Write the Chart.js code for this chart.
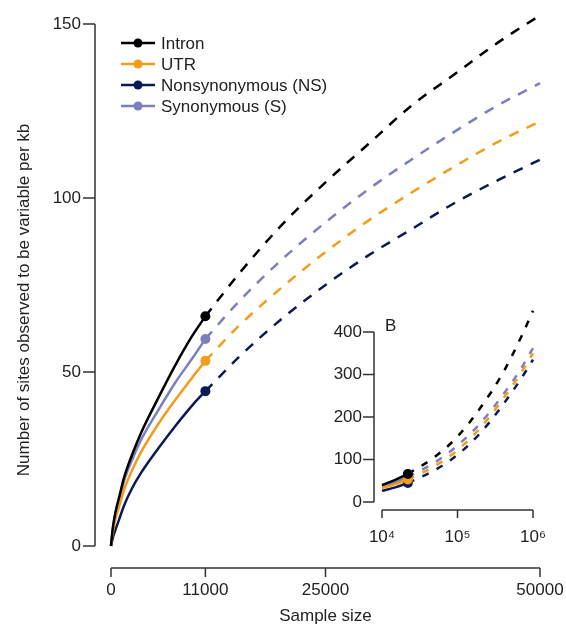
<!DOCTYPE html>
<html lang="en">
<head>
<meta charset="UTF-8" />
<title>Sites observed to be variable per kb</title>
<script src="https://cdn.jsdelivr.net/npm/chart.js"></script>
<style>
  body { margin: 0; background: #fff; }
  .wrap { position: relative; width: 566px; height: 627px; }
  #mainChart { position: absolute; left: 0; top: 0; }
  #insetChart { position: absolute; left: 320px; top: 300px; }
</style>
</head>
<body>
<div class="wrap">
  <canvas id="mainChart" width="566" height="627"></canvas>
  <canvas id="insetChart" width="246" height="260"></canvas>
</div>
<script>
// series
const seriesNames = ["Intron", "UTR", "Nonsynonymous (NS)", "Synonymous (S)"];
const seriesColors = ["#000000", "#f39c1a", "#0b1a55", "#7b7fc0"];

// main panel: observed (solid) part
const observedSizes = [0, 200, 500, 1000, 1500, 2500, 3500, 5500, 7500, 9500, 11000];
const intronObserved = [0, 5, 9.5, 14.5, 19.5, 26.5, 32.5, 42.5, 52, 60.5, 66];
const utrObserved = [0, 3.8, 7.5, 11.8, 16, 22, 27, 35, 42, 48.5, 53.2];
const nsObserved = [0, 2.2, 4.5, 8, 11.5, 16.8, 21, 28, 34.5, 40.5, 44.5];
const sObserved = [0, 4.5, 8.8, 13.5, 18.5, 25, 30.5, 39, 47, 54, 59.5];

// main panel: projected (dashed) part
const projectedSizes = [11000, 15000, 20000, 25000, 30000, 35000, 40000, 45000, 50000];
const intronProjected = [66, 78.5, 92.5, 104.5, 115.5, 126.5, 135.5, 144.5, 152.5];
const utrProjected = [53.2, 63.5, 74.5, 84.5, 93.5, 101.5, 109, 116, 122];
const nsProjected = [44.5, 54.5, 65.5, 75, 83.5, 91, 98.5, 105, 111];
const sProjected = [59.5, 70.5, 82.5, 93, 102.5, 111, 119, 126.5, 133];

const mainXTicks = [0, 11000, 25000, 50000];
const mainYTicks = [0, 50, 100, 150];

// inset B (log x)
const insetObservedSizes = [10000, 15000, 22000];
const intronInsetObs = [40, 52, 66];
const utrInsetObs = [33, 42, 53.2];
const nsInsetObs = [26.3, 34.5, 44.5];
const sInsetObs = [36.4, 46.5, 59.5];

const insetProjectedSizes = [22000, 50000, 100000, 200000, 400000, 700000, 1000000];
const intronInsetProj = [66, 106, 154, 221, 304, 389, 450];
const utrInsetProj = [53.2, 84.5, 122, 174, 242, 305, 350];
const nsInsetProj = [44.5, 75, 111, 162, 229, 291, 335];
const sInsetProj = [59.5, 93, 133, 185, 252, 315, 362];

const insetXTicks = [10000, 100000, 1000000];
const insetXLabels = ["10\u2074", "10\u2075", "10\u2076"];
const insetYTicks = [0, 100, 200, 300, 400];

Chart.defaults.font.family = "'Liberation Sans', Arial, sans-serif";
Chart.defaults.font.size = 17;
Chart.defaults.color = "#222";

const toPoints = (xs, ys) => xs.map((x, i) => ({ x: x, y: ys[i] }));

// no extra room for overflowing tick labels, so the plot area sits where layout padding says
const noLabelPadding = (s) => {
  s.paddingLeft = 0;
  s.paddingRight = 0;
  s.paddingTop = 0;
  s.paddingBottom = 0;
};

function buildDatasets(obsX, obsList, projX, projList, dash, radius) {
  const sets = [];
  obsList.forEach((ys, i) => {
    const last = ys.length - 1;
    sets.push({
      label: seriesNames[i],
      data: toPoints(obsX, ys),
      borderColor: seriesColors[i],
      backgroundColor: seriesColors[i],
      borderWidth: 2.5,
      pointRadius: (c) => (c.dataIndex === last ? radius : 0),
      pointHoverRadius: 0,
      pointBorderWidth: 0,
      cubicInterpolationMode: "monotone",
      clip: false,
    });
  });
  projList.forEach((ys, i) => {
    sets.push({
      label: seriesNames[i] + " projected",
      data: toPoints(projX, ys),
      borderColor: seriesColors[i],
      borderWidth: 2.5,
      borderDash: dash,
      pointRadius: 0,
      cubicInterpolationMode: "monotone",
      clip: false,
    });
  });
  return sets;
}

// offset axis lines, tick marks, titles and legend
const axesPlugin = {
  id: "axes",
  afterDraw(chart, args, opts) {
    const { ctx, chartArea } = chart;
    const x = chart.scales.x;
    const y = chart.scales.y;
    ctx.save();
    ctx.strokeStyle = "#333";
    ctx.lineWidth = 1.5;

    const yLineX = chartArea.left - opts.yGap;
    const y0 = y.getPixelForValue(opts.yTicks[0]);
    const y1 = y.getPixelForValue(opts.yTicks[opts.yTicks.length - 1]);
    ctx.beginPath();
    ctx.moveTo(yLineX, y0);
    ctx.lineTo(yLineX, y1);
    opts.yTicks.forEach((v) => {
      const p = y.getPixelForValue(v);
      ctx.moveTo(yLineX, p);
      ctx.lineTo(yLineX - opts.yTickLen, p);
    });
    ctx.stroke();

    const xLineY = chartArea.bottom + opts.xGap;
    const x0 = x.getPixelForValue(opts.xTicks[0]);
    const x1 = x.getPixelForValue(opts.xTicks[opts.xTicks.length - 1]);
    ctx.beginPath();
    ctx.moveTo(x0, xLineY);
    ctx.lineTo(x1, xLineY);
    opts.xTicks.forEach((v) => {
      const p = x.getPixelForValue(v);
      ctx.moveTo(p, xLineY);
      ctx.lineTo(p, xLineY + opts.xTickLen);
    });
    ctx.stroke();

    ctx.fillStyle = "#222";
    ctx.font = "17px 'Liberation Sans', Arial, sans-serif";
    if (opts.xTitle) {
      ctx.textAlign = "center";
      ctx.textBaseline = "middle";
      ctx.fillText(opts.xTitle, (x0 + x1) / 2, opts.xTitleY);
    }
    if (opts.yTitle) {
      ctx.save();
      ctx.translate(opts.yTitleX, opts.yTitleY);
      ctx.rotate(-Math.PI / 2);
      ctx.textAlign = "center";
      ctx.textBaseline = "middle";
      ctx.fillText(opts.yTitle, 0, 0);
      ctx.restore();
    }
    if (opts.panelLabel) {
      ctx.textAlign = "left";
      ctx.textBaseline = "middle";
      ctx.fillText(opts.panelLabel, opts.panelLabelX, opts.panelLabelY);
    }
    if (opts.legend) {
      const L = opts.legend;
      ctx.textAlign = "left";
      ctx.textBaseline = "middle";
      seriesNames.forEach((name, i) => {
        const cy = L.top + i * L.step;
        ctx.strokeStyle = seriesColors[i];
        ctx.lineWidth = 2.5;
        ctx.beginPath();
        ctx.moveTo(L.left, cy);
        ctx.lineTo(L.left + L.lineLen, cy);
        ctx.stroke();
        ctx.fillStyle = seriesColors[i];
        ctx.beginPath();
        ctx.arc(L.left + L.lineLen / 2, cy, 4.5, 0, Math.PI * 2);
        ctx.fill();
        ctx.fillStyle = "#222";
        ctx.fillText(name, L.left + L.lineLen + 6, cy + 1);
      });
    }
    ctx.restore();
  },
};

new Chart(document.getElementById("mainChart"), {
  type: "line",
  data: {
    datasets: buildDatasets(
      observedSizes,
      [intronObserved, utrObserved, nsObserved, sObserved],
      projectedSizes,
      [intronProjected, utrProjected, nsProjected, sProjected],
      [10, 9],
      5
    ),
  },
  options: {
    responsive: false,
    animation: false,
    events: [],
    layout: { padding: { top: 24, right: 26, left: 0, bottom: 0 } },
    scales: {
      x: {
        type: "linear",
        min: 0,
        max: 50000,
        afterBuildTicks: (s) => { s.ticks = mainXTicks.map((v) => ({ value: v })); },
        afterFit: (s) => { s.height = 81; noLabelPadding(s); },
        grid: { display: false, drawTicks: false },
        border: { display: false },
        ticks: { padding: 34, autoSkip: false, maxRotation: 0, callback: (v) => String(v) },
      },
      y: {
        min: 0,
        max: 150,
        afterBuildTicks: (s) => { s.ticks = mainYTicks.map((v) => ({ value: v })); },
        afterFit: (s) => { s.width = 111; noLabelPadding(s); },
        grid: { display: false, drawTicks: false },
        border: { display: false },
        ticks: { padding: 30, callback: (v) => String(v) },
      },
    },
    plugins: {
      legend: { display: false },
      tooltip: { enabled: false },
      axes: {
        xTicks: mainXTicks,
        yTicks: mainYTicks,
        yGap: 16,
        yTickLen: 12,
        xGap: 22,
        xTickLen: 9,
        xTitle: "Sample size",
        xTitleY: 616,
        yTitle: "Number of sites observed to be variable per kb",
        yTitleX: 24,
        yTitleY: 300,
        legend: { left: 121, top: 43, step: 21, lineLen: 34 },
      },
    },
  },
  plugins: [axesPlugin],
});

new Chart(document.getElementById("insetChart"), {
  type: "line",
  data: {
    datasets: buildDatasets(
      insetObservedSizes,
      [intronInsetObs, utrInsetObs, nsInsetObs, sInsetObs],
      insetProjectedSizes,
      [intronInsetProj, utrInsetProj, nsInsetProj, sInsetProj],
      [7, 9],
      5
    ),
  },
  options: {
    responsive: false,
    animation: false,
    events: [],
    layout: { padding: { top: 32, right: 33, left: 0, bottom: 0 } },
    scales: {
      x: {
        type: "logarithmic",
        min: 10000,
        max: 1000000,
        afterBuildTicks: (s) => { s.ticks = insetXTicks.map((v) => ({ value: v })); },
        afterFit: (s) => { s.height = 58; noLabelPadding(s); },
        grid: { display: false, drawTicks: false },
        border: { display: false },
        ticks: {
          padding: 25,
          autoSkip: false,
          maxRotation: 0,
          callback: (v) => insetXLabels[insetXTicks.indexOf(v)],
        },
      },
      y: {
        min: 0,
        max: 400,
        afterBuildTicks: (s) => { s.ticks = insetYTicks.map((v) => ({ value: v })); },
        afterFit: (s) => { s.width = 62; noLabelPadding(s); },
        grid: { display: false, drawTicks: false },
        border: { display: false },
        ticks: { padding: 20, callback: (v) => String(v) },
      },
    },
    plugins: {
      legend: { display: false },
      tooltip: { enabled: false },
      axes: {
        xTicks: insetXTicks,
        yTicks: insetYTicks,
        yGap: 8,
        yTickLen: 11,
        xGap: 8,
        xTickLen: 8,
        panelLabel: "B",
        panelLabelX: 65,
        panelLabelY: 26,
      },
    },
  },
  plugins: [axesPlugin],
});
</script>
</body>
</html>
